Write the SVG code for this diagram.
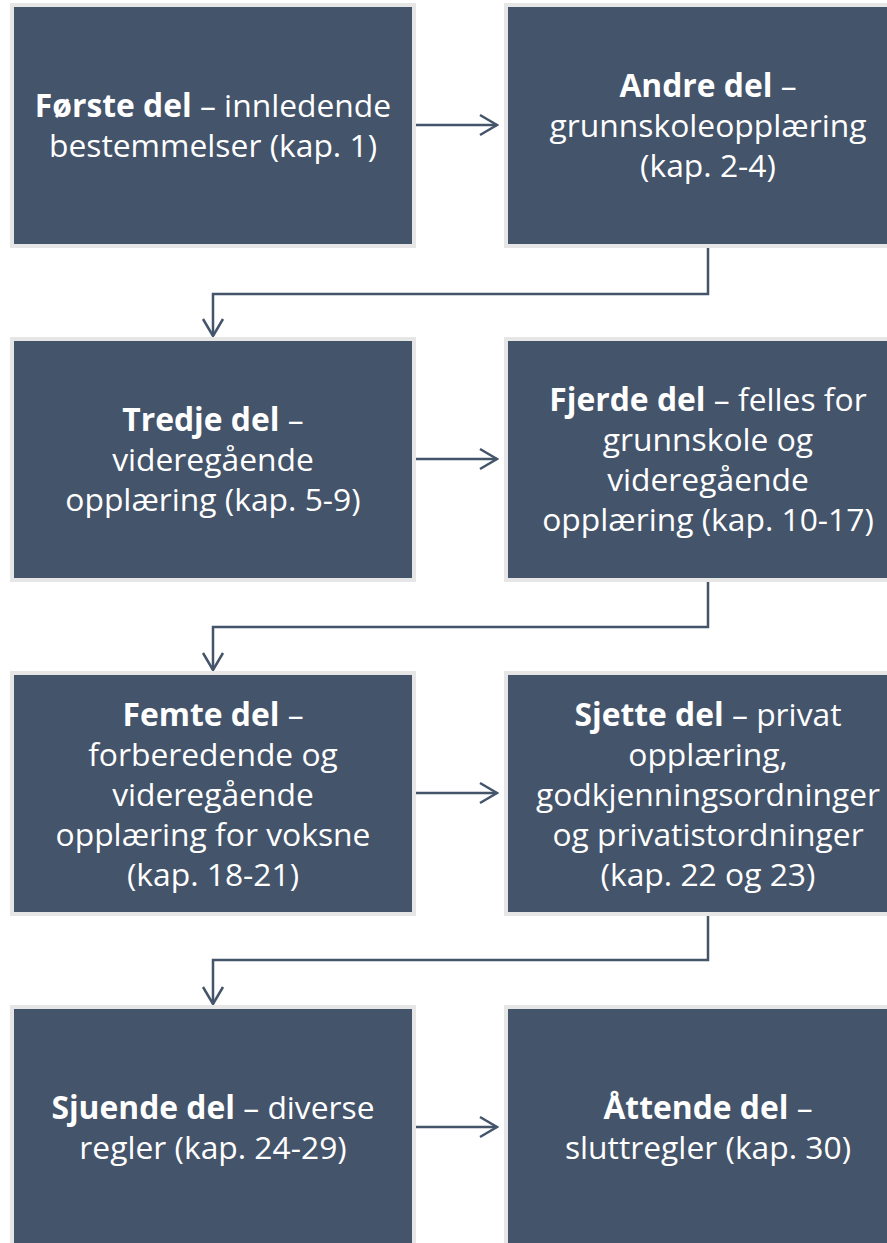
<svg xmlns="http://www.w3.org/2000/svg" width="887" height="1243" viewBox="0 0 887 1243">
<style>
.box{fill:#44546a;stroke:#e7e6e6;stroke-width:4}
.t{font-family:"Open Sans","Liberation Sans",sans-serif;font-size:31.8px;fill:#ffffff;text-anchor:middle}
.b{font-weight:bold}
.c{fill:none;stroke:#44546a;stroke-width:2.5}
</style>
<defs>
<marker id="ah" markerWidth="20" markerHeight="24" refX="18" refY="12" orient="auto" markerUnits="userSpaceOnUse">
<path d="M1,2 L18,12 L1,22" fill="none" stroke="#44546a" stroke-width="2.5"/>
</marker>
</defs>
<rect width="887" height="1243" fill="#ffffff"/>
<g id="connectors">
<path class="c" d="M416,125 H497" marker-end="url(#ah)"/>
<path class="c" d="M708,248 V294 H213 V336" marker-end="url(#ah)"/>
<path class="c" d="M416,459 H497" marker-end="url(#ah)"/>
<path class="c" d="M708,582 V627 H213 V670" marker-end="url(#ah)"/>
<path class="c" d="M416,793 H497" marker-end="url(#ah)"/>
<path class="c" d="M708,916 V960 H213 V1004" marker-end="url(#ah)"/>
<path class="c" d="M416,1127 H497" marker-end="url(#ah)"/>
</g>
<g id="n1">
<rect class="box" x="12" y="5" width="402" height="241"/>
<text class="t" x="213" y="117"><tspan class="b">Første del</tspan> – innledende</text>
<text class="t" x="213" y="157">bestemmelser (kap. 1)</text>
</g>
<g id="n2">
<rect class="box" x="506" y="5" width="402" height="241"/>
<text class="t" x="708" y="97"><tspan class="b">Andre del</tspan> –</text>
<text class="t" x="708" y="137">grunnskoleopplæring</text>
<text class="t" x="708" y="177">(kap. 2-4)</text>
</g>
<g id="n3">
<rect class="box" x="12" y="339" width="402" height="241"/>
<text class="t" x="213" y="431"><tspan class="b">Tredje del</tspan> –</text>
<text class="t" x="213" y="471">videregående</text>
<text class="t" x="213" y="511">opplæring (kap. 5-9)</text>
</g>
<g id="n4">
<rect class="box" x="506" y="339" width="402" height="241"/>
<text class="t" x="708" y="411"><tspan class="b">Fjerde del</tspan> – felles for</text>
<text class="t" x="708" y="451">grunnskole og</text>
<text class="t" x="708" y="491">videregående</text>
<text class="t" x="708" y="531">opplæring (kap. 10-17)</text>
</g>
<g id="n5">
<rect class="box" x="12" y="673" width="402" height="241"/>
<text class="t" x="213" y="726"><tspan class="b">Femte del</tspan> –</text>
<text class="t" x="213" y="766">forberedende og</text>
<text class="t" x="213" y="806">videregående</text>
<text class="t" x="213" y="846">opplæring for voksne</text>
<text class="t" x="213" y="886">(kap. 18-21)</text>
</g>
<g id="n6">
<rect class="box" x="506" y="673" width="402" height="241"/>
<text class="t" x="708" y="726"><tspan class="b">Sjette del</tspan> – privat</text>
<text class="t" x="708" y="766">opplæring,</text>
<text class="t" x="708" y="806">godkjenningsordninger</text>
<text class="t" x="708" y="846">og privatistordninger</text>
<text class="t" x="708" y="886">(kap. 22 og 23)</text>
</g>
<g id="n7">
<rect class="box" x="12" y="1007" width="402" height="241"/>
<text class="t" x="213" y="1119"><tspan class="b">Sjuende del</tspan> – diverse</text>
<text class="t" x="213" y="1159">regler (kap. 24-29)</text>
</g>
<g id="n8">
<rect class="box" x="506" y="1007" width="402" height="241"/>
<text class="t" x="708" y="1119"><tspan class="b">Åttende del</tspan> –</text>
<text class="t" x="708" y="1159">sluttregler (kap. 30)</text>
</g>
</svg>
